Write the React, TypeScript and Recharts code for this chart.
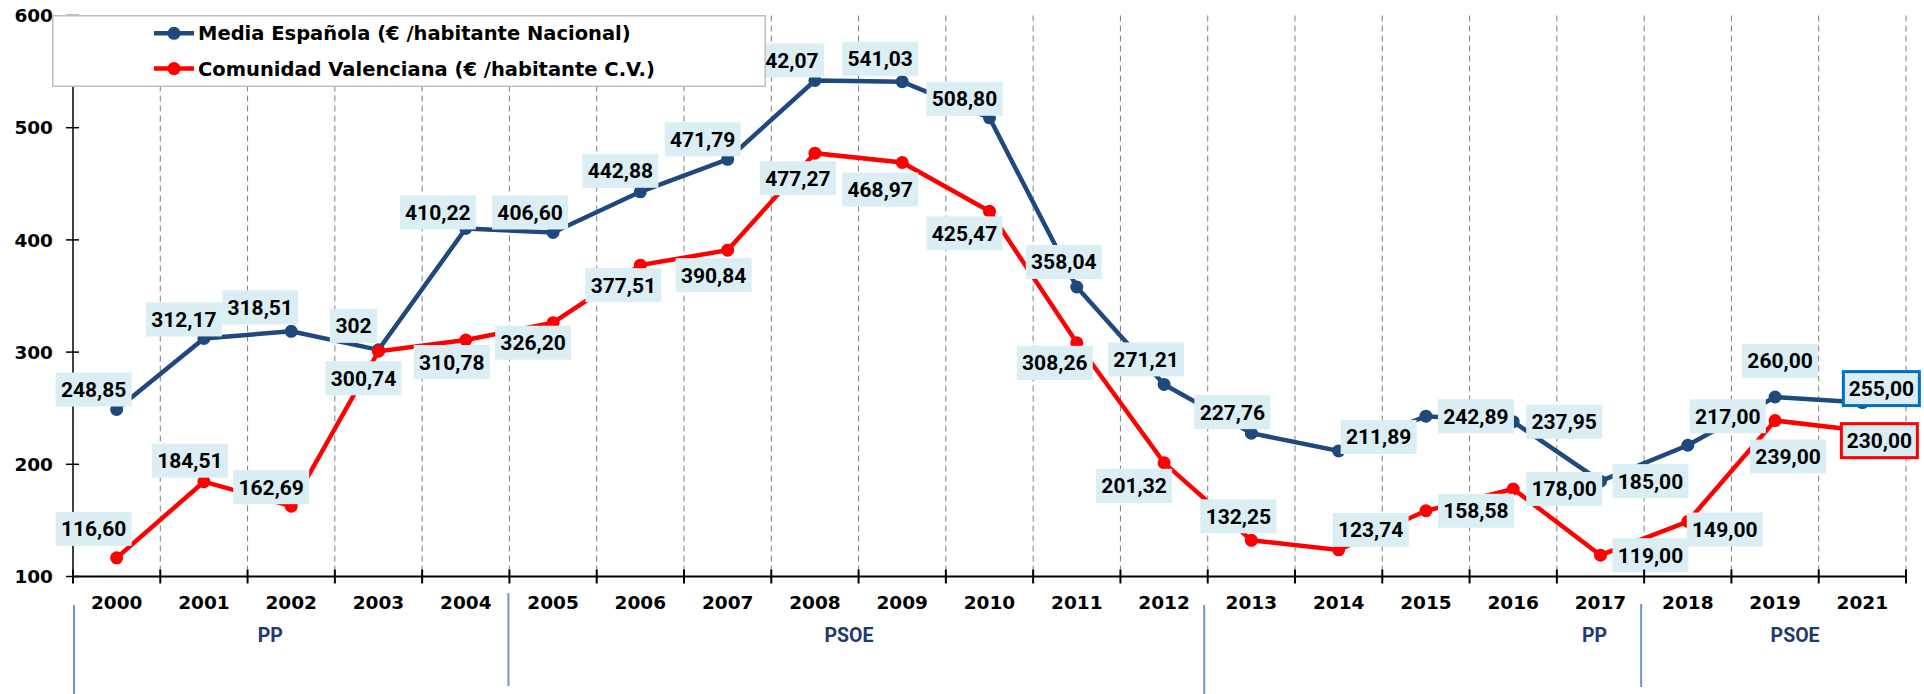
import { LineChart, Line, XAxis, YAxis, CartesianGrid } from 'recharts'

const years = ['2000', '2001', '2002', '2003', '2004', '2005', '2006', '2007', '2008', '2009', '2010', '2011', '2012', '2013', '2014', '2015', '2016', '2017', '2018', '2019', '2021']
const media = [248.85, 312.17, 318.51, 302, 410.22, 406.6, 442.88, 471.79, 542.07, 541.03, 508.8, 358.04, 271.21, 227.76, 211.89, 242.89, 237.95, 185, 217, 260, 255]
const valenciana = [116.6, 184.51, 162.69, 300.74, 310.78, 326.2, 377.51, 390.84, 477.27, 468.97, 425.47, 308.26, 201.32, 132.25, 123.74, 158.58, 178, 119, 149, 239, 230]
const yTicks = [100, 200, 300, 400, 500, 600]
// years where the government changed, and the party that took over
const governments = [
  { party: 'PP', from: '2000' },
  { party: 'PSOE', from: '2005' },
  { party: 'PP', from: '2013' },
  { party: 'PSOE', from: '2018' },
]
const mediaPlainLabels = ['2003']
const boxedYear = '2021'

const mediaName = 'Media Española (€ /habitante Nacional)'
const cvName = 'Comunidad Valenciana (€ /habitante C.V.)'

// layout
const W = 1924
const H = 694
const MARGIN = { top: 15.5, right: 18, bottom: 7.5, left: 0 }
const Y_W = 73
const X_H = 110
const PLOT_W = W - Y_W - MARGIN.right - MARGIN.left
const BAND = PLOT_W / years.length
const BLUE = '#1F497D'
const RED = '#FF0000'
const AXIS_FONT = 'DejaVu Sans, Verdana, sans-serif'
const LABEL_FONT = 'Roboto, Arial, sans-serif'

// where each data label box sits, relative to its point (dx, dy)
const mediaLabelOffset = [
  [-23, -20], [-20, -19], [-31, -24], [-25, -24], [-28, -16], [-23, -20], [-20, -21],
  [-25, -20], [-29, -20], [-22, -23], [-25, -19], [-13, -25], [-18, -25], [-19, -21],
  [40, -14], [50, 0], [51, 0], [50, 0], [40, -29], [5, -36], [19, -14],
]
const cvLabelOffset = [
  [-23, -29], [-14, -21], [-20, -19], [-15, 27], [-14, 22], [-20, 20], [-17, 20],
  [-14, 25], [-17, 25], [-22, 27], [-25, 22], [-22, 20], [-30, 23], [-13, -24],
  [32, -20], [50, 0], [51, 0], [50, 0], [37, 8], [13, 36], [17, 10],
]
// party label placement (year it hangs from + horizontal shift)
const partyLabelAt = [
  { year: '2002', dx: -21 },
  { year: '2008', dx: 34 },
  { year: '2017', dx: -6 },
  { year: '2019', dx: 20 },
]
const breakLineStyle = [
  { dx: 1, y1: 28.5, y2: 118 },
  { dx: -1, y1: 16.5, y2: 109.5 },
  { dx: -3.5, y1: 28.5, y2: 118 },
  { dx: -3, y1: 27.5, y2: 110.5 },
]

const rows = years.map((year, i) => ({ year, media: media[i], cv: valenciana[i] }))

function fmt(v: number, plain: boolean) {
  return plain ? String(v) : v.toFixed(2).replace('.', ',')
}

function textWidth(s: string) {
  let w = 0
  for (const ch of s) w += ch === ',' ? 0.24 * 21 : 0.5615 * 21
  return w
}

function makeLabelDot(key: 'media' | 'cv', offsets: number[][], border: string, plain: string[]) {
  return (props: any) => {
    const { cx, cy, index, payload } = props
    if (cx == null || cy == null) return <g key={`${key}-l-${index}`} />
    const text = fmt(payload[key], plain.includes(payload.year))
    const [dx, dy] = offsets[index]
    const bx = cx + dx
    const by = cy + dy
    const w = textWidth(text) + 12
    const h = 34
    const boxed = payload.year === boxedYear
    return (
      <g key={`${key}-l-${index}`}>
        <rect
          x={bx - w / 2}
          y={by - h / 2}
          width={w}
          height={h}
          fill="#DAEEF3"
          stroke={boxed ? border : 'none'}
          strokeWidth={3}
        />
        <text x={bx} y={by + 7.5} textAnchor="middle" fontFamily={LABEL_FONT} fontWeight={700} fontSize={21} fill="#000">
          {text}
        </text>
      </g>
    )
  }
}

function XTick(props: any) {
  const { x, y, payload, index } = props
  const year = payload.value
  const g = governments.findIndex((d) => d.from === year)
  const p = partyLabelAt.findIndex((d) => d.year === year)
  return (
    <g>
      <line x1={x - BAND / 2} x2={x - BAND / 2} y1={y - 7} y2={y + 7} stroke="#000" strokeWidth={2} />
      {index === years.length - 1 && (
        <line x1={x + BAND / 2} x2={x + BAND / 2} y1={y - 7} y2={y + 7} stroke="#000" strokeWidth={2} />
      )}
      <text x={x} y={y + 32.5} textAnchor="middle" fontFamily={AXIS_FONT} fontWeight="bold" fontSize={18.5} fill="#000">
        {year}
      </text>
      {g >= 0 && (
        <line
          x1={x - BAND / 2 + breakLineStyle[g].dx}
          x2={x - BAND / 2 + breakLineStyle[g].dx}
          y1={y + breakLineStyle[g].y1}
          y2={y + breakLineStyle[g].y2}
          stroke="#6A95CF"
          strokeWidth={2}
        />
      )}
      {p >= 0 && (
        <text x={x + partyLabelAt[p].dx} y={y + 65} textAnchor="middle" fontFamily={LABEL_FONT} fontWeight={700} fontSize={19.5} fill="#1F3A6E">
          {governments[p].party}
        </text>
      )}
    </g>
  )
}

function YTick(props: any) {
  const { x, y, payload } = props
  return (
    <g>
      <line x1={x - 7} x2={x + 6} y1={y} y2={y} stroke="#000" strokeWidth={1.5} />
      <text x={x - 20} y={y + 6.7} textAnchor="end" fontFamily={AXIS_FONT} fontWeight="bold" fontSize={18.5} fill="#000">
        {payload.value}
      </text>
    </g>
  )
}

function LegendBox() {
  const items = [
    { name: mediaName, color: BLUE, y: 18.3 },
    { name: cvName, color: RED, y: 53.6 },
  ]
  return (
    <svg
      width={714}
      height={72}
      style={{ position: 'absolute', left: 52, top: 15, overflow: 'visible' }}
    >
      <rect x={0.75} y={0.75} width={712.5} height={70.5} fill="#fff" stroke="#BFBFBF" strokeWidth={1.5} />
      {items.map((it) => (
        <g key={it.name}>
          <line x1={102} x2={142} y1={it.y} y2={it.y} stroke={it.color} strokeWidth={4.5} />
          <circle cx={122} cy={it.y} r={6.5} fill={it.color} />
          <text x={146} y={it.y + 7} fontFamily={AXIS_FONT} fontWeight="bold" fontSize={19.5} fill="#000">
            {it.name}
          </text>
        </g>
      ))}
    </svg>
  )
}

export default function App() {
  return (
    <div style={{ position: 'absolute', left: 0, top: 0, width: W, height: H, background: '#fff' }}>
      <LineChart width={W} height={H} data={rows} margin={MARGIN}>
        <CartesianGrid
          horizontal={false}
          stroke="#7F7F7F"
          strokeDasharray="6 4"
          verticalCoordinatesGenerator={({ offset }: any) =>
            years.map((_, i) => offset.left + ((i + 1) * offset.width) / years.length)
          }
        />
        <XAxis
          dataKey="year"
          interval={0}
          height={X_H}
          padding={{ left: BAND / 2, right: BAND / 2 }}
          tickSize={0}
          tickMargin={0}
          axisLine={{ stroke: '#000', strokeWidth: 2 }}
          tick={(p: any) => <XTick {...p} />}
        />
        <YAxis
          domain={[100, 600]}
          ticks={yTicks}
          width={Y_W}
          tickSize={0}
          tickMargin={0}
          allowDataOverflow
          axisLine={{ stroke: '#000', strokeWidth: 1.5 }}
          tick={(p: any) => <YTick {...p} />}
        />
        <Line
          dataKey="media"
          name={mediaName}
          stroke={BLUE}
          strokeWidth={4.5}
          dot={{ r: 6.5, fill: BLUE, stroke: 'none' }}
          activeDot={false}
          isAnimationActive={false}
        />
        <Line
          dataKey="cv"
          name={cvName}
          stroke={RED}
          strokeWidth={4.5}
          dot={{ r: 6.5, fill: RED, stroke: 'none' }}
          activeDot={false}
          isAnimationActive={false}
        />
        {/* label layers drawn after both lines so the boxes sit on top */}
        <Line
          dataKey="media"
          stroke="none"
          legendType="none"
          dot={makeLabelDot('media', mediaLabelOffset, '#0070C0', mediaPlainLabels)}
          activeDot={false}
          isAnimationActive={false}
        />
        <Line
          dataKey="cv"
          stroke="none"
          legendType="none"
          dot={makeLabelDot('cv', cvLabelOffset, RED, [])}
          activeDot={false}
          isAnimationActive={false}
        />
      </LineChart>
      <LegendBox />
    </div>
  )
}
